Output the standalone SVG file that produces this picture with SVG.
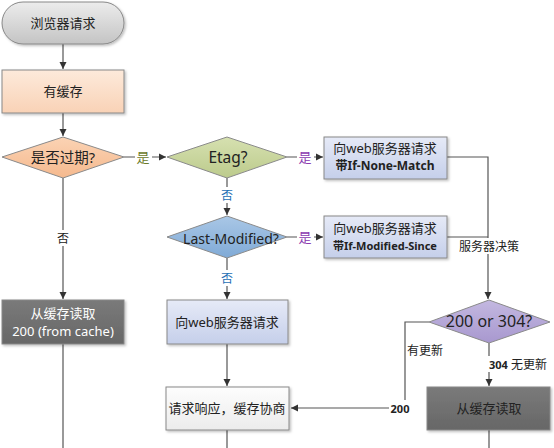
<svg xmlns="http://www.w3.org/2000/svg" width="554" height="448" viewBox="0 0 554 448">
<defs>
<linearGradient id="gGray" x1="0" y1="0" x2="0" y2="1"><stop offset="0" stop-color="#ececec"/><stop offset="1" stop-color="#c4c4c4"/></linearGradient>
<linearGradient id="gPeach" x1="0" y1="0" x2="0" y2="1"><stop offset="0" stop-color="#fdeadb"/><stop offset="1" stop-color="#f9d2b6"/></linearGradient>
<linearGradient id="gOrange" x1="0" y1="0" x2="0" y2="1"><stop offset="0" stop-color="#fbd3b4"/><stop offset="1" stop-color="#f5b98e"/></linearGradient>
<linearGradient id="gGreen" x1="0" y1="0" x2="0" y2="1"><stop offset="0" stop-color="#d6e0b0"/><stop offset="1" stop-color="#bccb8c"/></linearGradient>
<linearGradient id="gBlue" x1="0" y1="0" x2="0" y2="1"><stop offset="0" stop-color="#a9c7e6"/><stop offset="1" stop-color="#80aad6"/></linearGradient>
<linearGradient id="gLav" x1="0" y1="0" x2="0" y2="1"><stop offset="0" stop-color="#e6eaf7"/><stop offset="1" stop-color="#c5cfea"/></linearGradient>
<linearGradient id="gWhite" x1="0" y1="0" x2="0" y2="1"><stop offset="0" stop-color="#fdfdfd"/><stop offset="1" stop-color="#ececec"/></linearGradient>
<linearGradient id="gDark" x1="0" y1="0" x2="0" y2="1"><stop offset="0" stop-color="#7a7a7a"/><stop offset="1" stop-color="#676767"/></linearGradient>
<linearGradient id="gPurple" x1="0" y1="0" x2="0" y2="1"><stop offset="0" stop-color="#c3b8e0"/><stop offset="1" stop-color="#a898cf"/></linearGradient>
<marker id="arr" markerWidth="8" markerHeight="8" refX="7" refY="4" orient="auto" markerUnits="userSpaceOnUse"><path d="M0,0.5 L7,4 L0,7.5 Z" fill="#333"/></marker>
<filter id="sh" x="-10%" y="-10%" width="130%" height="140%"><feDropShadow dx="1.5" dy="1.5" stdDeviation="1" flood-color="#000" flood-opacity="0.25"/></filter>
</defs>
<style>
text{font-family:"Noto Sans","Noto Sans CJK SC",sans-serif;font-size:13px;text-anchor:middle;dominant-baseline:central;fill:#222}
.shape{stroke:#888;stroke-width:1;filter:url(#sh)}
.dia{stroke:#8a8a8a;stroke-width:1}
.conn{fill:none;stroke:#555;stroke-width:1.2}
.lbl{font-size:12px}
.white{fill:#fff}
.bold{font-weight:bold}
.yes1{fill:#6b7a2a;font-size:13px}
.yes2{fill:#8b3ab0;font-size:13px}
.no{fill:#1f6fb5}
.lblbg{fill:#fff}
</style>
<rect width="554" height="448" fill="#fff"/>
<g id="connectors">
<line class="conn" x1="63" y1="44" x2="63" y2="69" marker-end="url(#arr)"/>
<line class="conn" x1="63" y1="113" x2="63" y2="136" marker-end="url(#arr)"/>
<line class="conn" x1="124" y1="157" x2="166" y2="157" marker-end="url(#arr)"/>
<line class="conn" x1="63" y1="178" x2="63" y2="299" marker-end="url(#arr)"/>
<line class="conn" x1="287" y1="157" x2="323" y2="157" marker-end="url(#arr)"/>
<line class="conn" x1="227" y1="178" x2="227" y2="215" marker-end="url(#arr)"/>
<line class="conn" x1="287" y1="237" x2="323" y2="237" marker-end="url(#arr)"/>
<line class="conn" x1="227" y1="258" x2="227" y2="299" marker-end="url(#arr)"/>
<line class="conn" x1="227" y1="344" x2="227" y2="386" marker-end="url(#arr)"/>
<polyline class="conn" points="447,157 488,157 488,299" marker-end="url(#arr)"/>
<line class="conn" x1="447" y1="237" x2="488" y2="237"/>
<line class="conn" x1="489" y1="343" x2="489" y2="386" marker-end="url(#arr)"/>
<polyline class="conn" points="429,322 405,322 405,408 291,408" marker-end="url(#arr)"/>
<line class="conn" x1="63" y1="344" x2="63" y2="448"/>
<line class="conn" x1="227" y1="430" x2="227" y2="448"/>
<line class="conn" x1="489" y1="430" x2="489" y2="448"/>
<rect class="lblbg" x="135" y="149" width="17" height="16"/>
<text class="lbl yes1" x="143" y="157">是</text>
<rect class="lblbg" x="297" y="149" width="17" height="16"/>
<text class="lbl yes2" x="305" y="157">是</text>
<rect class="lblbg" x="297" y="229" width="17" height="16"/>
<text class="lbl yes2" x="305" y="237">是</text>
<rect class="lblbg" x="219" y="187" width="17" height="16"/>
<text class="lbl no" x="227" y="195">否</text>
<rect class="lblbg" x="219" y="270" width="17" height="16"/>
<text class="lbl no" x="227" y="278">否</text>
<rect class="lblbg" x="55" y="230" width="17" height="16"/>
<text class="lbl" x="63" y="238">否</text>
<rect class="lblbg" x="457" y="238" width="64" height="16"/>
<text class="lbl" x="489" y="246">服务器决策</text>
<text class="lbl" x="425" y="350">有更新</text>
<rect class="lblbg" x="389" y="400" width="22" height="16"/>
<text class="lbl bold" x="400" y="408" style="font-size:11px">200</text>
<rect class="lblbg" x="476" y="356" width="66" height="16"/>
<text class="lbl" x="518" y="364"><tspan class="bold" style="font-size:11px">304</tspan> 无更新</text>
</g>
<g id="start">
<rect class="shape" x="2" y="2" width="122" height="42" rx="21" fill="url(#gGray)"/>
<text x="63" y="23">浏览器请求</text>
</g>
<g id="hascache">
<rect class="shape" x="2" y="70" width="122" height="43" fill="url(#gPeach)"/>
<text x="63" y="91">有缓存</text>
</g>
<g id="expired">
<polygon class="dia" points="2,157 63,137 124,157 63,178" fill="url(#gOrange)"/>
<text x="63" y="157" style="font-size:14.5px">是否过期?</text>
</g>
<g id="etag">
<polygon class="dia" points="167,157 227,137 287,157 227,178" fill="url(#gGreen)"/>
<text x="228" y="157" style="font-size:15.5px">Etag?</text>
</g>
<g id="reqNoneMatch">
<rect class="shape" x="324" y="137" width="123" height="42" fill="url(#gLav)"/>
<text x="385" y="148">向web服务器请求</text>
<text class="bold" x="385" y="165" style="font-size:12px">带If-None-Match</text>
</g>
<g id="lastmod">
<polygon class="dia" points="167,237 227,216 287,237 227,258" fill="url(#gBlue)"/>
<text x="231" y="238" style="font-size:14px">Last-Modified?</text>
</g>
<g id="reqModSince">
<rect class="shape" x="324" y="216" width="123" height="42" fill="url(#gLav)"/>
<text x="385" y="228">向web服务器请求</text>
<text class="bold" x="385" y="245" style="font-size:11px">带If-Modified-Since</text>
</g>
<g id="fromcache200">
<rect class="shape" x="2" y="300" width="122" height="44" fill="url(#gDark)"/>
<text class="white" x="63" y="313">从缓存读取</text>
<text class="white" x="63" y="331">200 (from cache)</text>
</g>
<g id="reqServer">
<rect class="shape" x="167" y="300" width="121" height="44" fill="url(#gLav)"/>
<text x="227" y="322">向web服务器请求</text>
</g>
<g id="decision">
<polygon class="dia" points="429,322 489,300 550,322 489,343" fill="url(#gPurple)"/>
<text x="489" y="321" style="font-size:16px">200 or 304?</text>
</g>
<g id="negotiate">
<rect class="shape" x="166" y="387" width="123" height="43" fill="url(#gWhite)"/>
<text x="227" y="408">请求响应，缓存协商</text>
</g>
<g id="fromcache304">
<rect class="shape" x="427" y="387" width="123" height="43" fill="url(#gDark)"/>
<text x="489" y="408">从缓存读取</text>
</g>
</svg>
